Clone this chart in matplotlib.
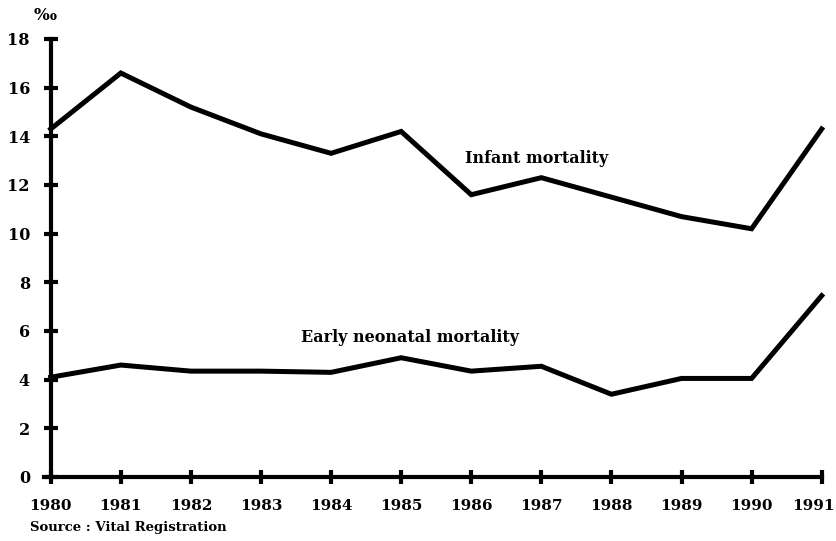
import matplotlib
matplotlib.use("Agg")
import matplotlib.pyplot as plt
import matplotlib.transforms as mtransforms

years = [1980, 1981, 1982, 1983, 1984, 1985, 1986, 1987, 1988, 1989, 1990, 1991]
infant = [14.3, 16.6, 15.2, 14.1, 13.3, 14.2, 11.6, 12.3, 11.5, 10.7, 10.2, 14.3]
early_neonatal = [4.1, 4.6, 4.35, 4.35, 4.3, 4.9, 4.35, 4.55, 3.4, 4.05, 4.05, 7.45]
yticks = [0, 2, 4, 6, 8, 10, 12, 14, 16, 18]

plt.rcParams['font.family'] = ['DejaVu Serif', 'Liberation Serif']
plt.rcParams['font.weight'] = 'bold'

fig = plt.figure(figsize=(8.37, 5.41), dpi=100)
ax = fig.add_axes([0.0606, 0.1183, 0.9817 - 0.0606, 0.928 - 0.1183])

ax.plot(years, infant, color='black', lw=3.6, clip_on=False, solid_joinstyle='miter')
ax.plot(years, early_neonatal, color='black', lw=3.6, clip_on=False, solid_joinstyle='miter')

ax.set_xlim(1980, 1991)
ax.set_ylim(0, 18)
for s in ['top', 'right']:
    ax.spines[s].set_visible(False)
for s in ['left', 'bottom']:
    ax.spines[s].set_linewidth(3)
ax.spines['bottom'].set_bounds(1979.9, 1991)

ax.set_xticks(years)
ax.set_xticklabels([str(y) for y in years], fontsize=11, fontweight='bold')
ax.set_yticks(yticks)
ax.set_yticklabels([str(v) for v in yticks], fontsize=11.5, fontweight='bold')
ax.tick_params(axis='both', direction='inout', length=10, width=3, colors='black')
ax.tick_params(axis='x', pad=11)
ax.tick_params(axis='y', pad=10)

last = ax.get_xticklabels()[-1]
last.set_transform(last.get_transform() + mtransforms.ScaledTranslation(-8 / 100, 0, fig.dpi_scale_trans))

ax.text(1986.93, 13.1, 'Infant mortality', fontsize=11.5, fontweight='bold', ha='center', va='center')
ax.text(1985.12, 5.75, 'Early neonatal mortality', fontsize=11.5, fontweight='bold', ha='center', va='center')
fig.text(45 / 837, 1 - 15 / 541, '‰', fontsize=12, fontweight='bold', ha='center', va='center')
fig.text(30 / 837, 1 - 527 / 541, 'Source : Vital Registration', fontsize=9.5, fontweight='bold', ha='left', va='center')

fig.savefig('out.png', dpi=100)
